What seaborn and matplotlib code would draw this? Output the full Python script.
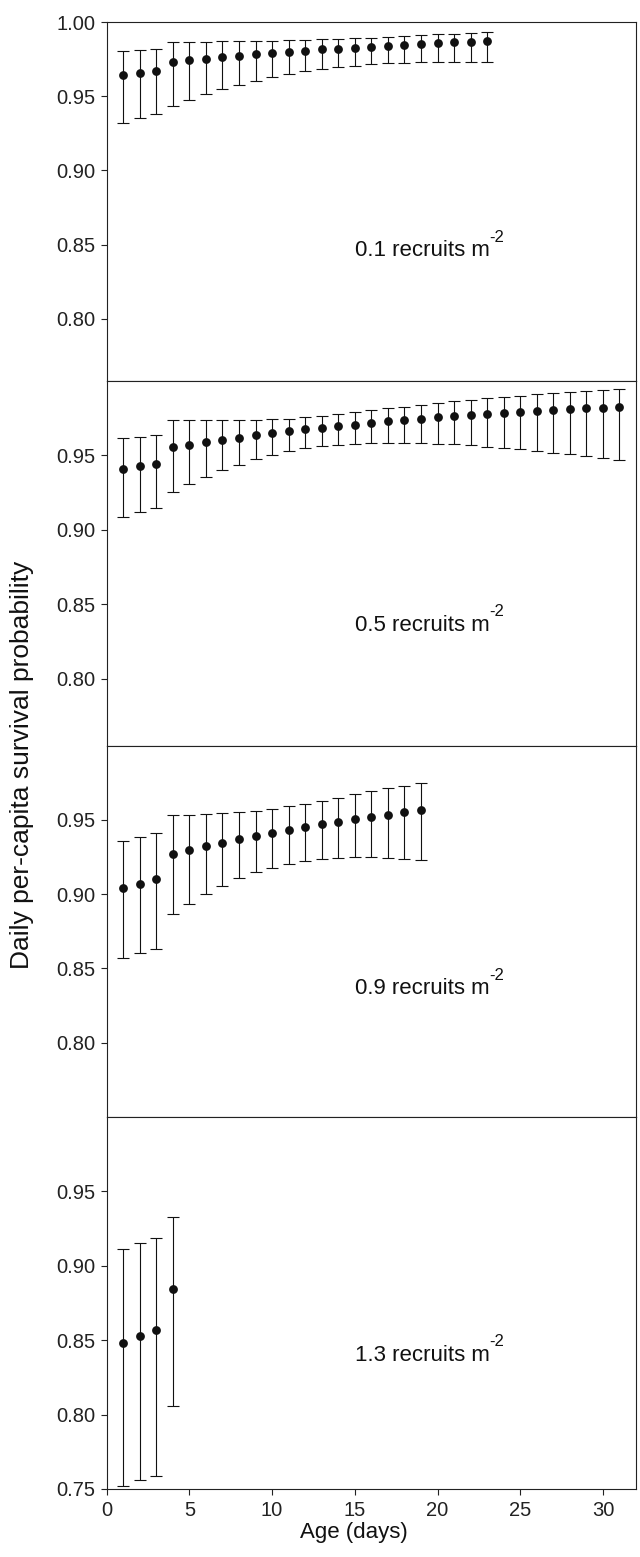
import numpy as np
import pandas as pd
import matplotlib
matplotlib.use("Agg")
import matplotlib.pyplot as plt
import seaborn as sns

# ---------------- data ----------------
labels = ["0.1", "0.5", "0.9", "1.3"]

mean_01 = [0.9642, 0.9656, 0.9667, 0.9730, 0.9741, 0.9752, 0.9761, 0.9773, 0.9782, 0.9791,
           0.9800, 0.9806, 0.9816, 0.9820, 0.9827, 0.9833, 0.9840, 0.9847, 0.9851, 0.9856,
           0.9863, 0.9867, 0.9872]
upper_01 = [0.9806, 0.9813, 0.9818, 0.9867, 0.9867, 0.9867, 0.9872, 0.9872, 0.9874, 0.9874,
            0.9878, 0.9881, 0.9883, 0.9887, 0.9892, 0.9894, 0.9901, 0.9908, 0.9912, 0.9917,
            0.9921, 0.9928, 0.9932]
lower_01 = [0.9318, 0.9354, 0.9381, 0.9435, 0.9476, 0.9512, 0.9546, 0.9575, 0.9604, 0.9627,
            0.9649, 0.9667, 0.9683, 0.9694, 0.9705, 0.9714, 0.9721, 0.9725, 0.9728, 0.9728,
            0.9730, 0.9730, 0.9730]

mean_05 = [0.9409, 0.9427, 0.9445, 0.9557, 0.9573, 0.9589, 0.9607, 0.9620, 0.9634, 0.9648,
           0.9661, 0.9675, 0.9686, 0.9698, 0.9707, 0.9718, 0.9730, 0.9739, 0.9748, 0.9757,
           0.9764, 0.9770, 0.9777, 0.9784, 0.9791, 0.9798, 0.9802, 0.9809, 0.9816, 0.9820,
           0.9825]
upper_05 = [0.9614, 0.9625, 0.9639, 0.9736, 0.9736, 0.9736, 0.9736, 0.9736, 0.9741, 0.9743,
            0.9748, 0.9755, 0.9766, 0.9775, 0.9789, 0.9802, 0.9816, 0.9827, 0.9841, 0.9855,
            0.9866, 0.9875, 0.9884, 0.9893, 0.9902, 0.9911, 0.9920, 0.9927, 0.9934, 0.9939,
            0.9943]
lower_05 = [0.9084, 0.9118, 0.9148, 0.9252, 0.9305, 0.9357, 0.9400, 0.9439, 0.9477, 0.9505,
            0.9527, 0.9548, 0.9561, 0.9573, 0.9580, 0.9582, 0.9584, 0.9584, 0.9582, 0.9580,
            0.9575, 0.9568, 0.9559, 0.9550, 0.9541, 0.9530, 0.9518, 0.9507, 0.9495, 0.9484,
            0.9468]

mean_09 = [0.9043, 0.9070, 0.9101, 0.9273, 0.9299, 0.9324, 0.9348, 0.9371, 0.9391, 0.9413,
           0.9433, 0.9451, 0.9471, 0.9489, 0.9504, 0.9520, 0.9536, 0.9551, 0.9565]
upper_09 = [0.9359, 0.9382, 0.9411, 0.9531, 0.9536, 0.9540, 0.9547, 0.9554, 0.9562, 0.9574,
            0.9591, 0.9609, 0.9627, 0.9647, 0.9672, 0.9692, 0.9712, 0.9732, 0.9750]
lower_09 = [0.8571, 0.8605, 0.8629, 0.8867, 0.8936, 0.9000, 0.9056, 0.9108, 0.9148, 0.9179,
            0.9203, 0.9223, 0.9237, 0.9244, 0.9248, 0.9248, 0.9244, 0.9239, 0.9230]

mean_13 = [0.8484, 0.8527, 0.8569, 0.8841]
upper_13 = [0.9112, 0.9151, 0.9188, 0.9328]
lower_13 = [0.7522, 0.7560, 0.7590, 0.8056]

means = [mean_01, mean_05, mean_09, mean_13]
uppers = [upper_01, upper_05, upper_09, upper_13]
lowers = [lower_01, lower_05, lower_09, lower_13]

ylims = [(0.758, 1.0), (0.755, 1.0), (0.75, 1.0), (0.75, 1.0)]
yticks = [[0.80, 0.85, 0.90, 0.95, 1.00],
          [0.80, 0.85, 0.90, 0.95],
          [0.80, 0.85, 0.90, 0.95],
          [0.75, 0.80, 0.85, 0.90, 0.95]]
label_y = [0.846, 0.836, 0.8365, 0.840]
xticks = [0, 5, 10, 15, 20, 25, 30]

# ---------------- style ----------------
sns.set_theme(style="ticks")
plt.rcParams["font.family"] = ["Liberation Sans", "DejaVu Sans"]
plt.rcParams["axes.linewidth"] = 0.8
plt.rcParams["axes.edgecolor"] = "#222222"

W, H = 640, 1557
fig = plt.figure(figsize=(W / 100, H / 100), dpi=100)

left_px, right_px = 106.7, 636.0
bounds = [(22, 381), (381, 745.7), (745.7, 1117), (1117, 1489)]

axes = []
for i, (top, bot) in enumerate(bounds):
    ax = fig.add_axes([left_px / W, 1 - bot / H, (right_px - left_px) / W, (bot - top) / H])
    axes.append(ax)
    x = np.arange(1, len(means[i]) + 1)
    m = np.array(means[i])
    up = np.array(uppers[i]) - m
    lo = m - np.array(lowers[i])
    ax.errorbar(x, m, yerr=[lo, up], fmt="none", ecolor="#111111",
                elinewidth=0.8, capsize=4.2, capthick=0.8, zorder=2)
    df = pd.DataFrame({"age": x, "surv": m})
    sns.scatterplot(data=df, x="age", y="surv", ax=ax, color="#111111",
                    s=40, edgecolor="#111111", linewidth=0, zorder=3, legend=False)
    ax.set_xlim(0, 32)
    ax.set_ylim(*ylims[i])
    ax.set_yticks(yticks[i])
    ax.set_yticklabels([f"{v:.2f}" for v in yticks[i]])
    ax.set_xticks(xticks)
    ax.set_xlabel("")
    ax.set_ylabel("")
    ax.tick_params(axis="y", direction="out", length=4, width=0.8, labelsize=14.5,
                   colors="#222222", pad=4)
    ax.tick_params(axis="x", direction="out", length=4, width=0.8, labelsize=14.5,
                   colors="#222222", pad=5)
    for sp in ax.spines.values():
        sp.set_visible(True)
        sp.set_linewidth(0.8)
    if i < 3:
        ax.tick_params(axis="x", bottom=False, labelbottom=False)
    txt = ax.text(15.0, label_y[i], labels[i] + " recruits m",
                  fontsize=16, color="#111111", ha="left", va="center")
    ax.annotate("-2", xy=(1.0, 0.78), xycoords=txt, fontsize=12, color="#111111",
                ha="left", va="bottom")

axes[3].set_xlabel("Age (days)", fontsize=16, color="#111111", labelpad=6)
axes[3].xaxis.set_label_coords(0.467, -0.088)

fig.text(0.034, (1 - 765 / H), "Daily per-capita survival probability",
         rotation=90, fontsize=19, color="#111111", ha="center", va="center")

fig.savefig("out.png", dpi=100)
